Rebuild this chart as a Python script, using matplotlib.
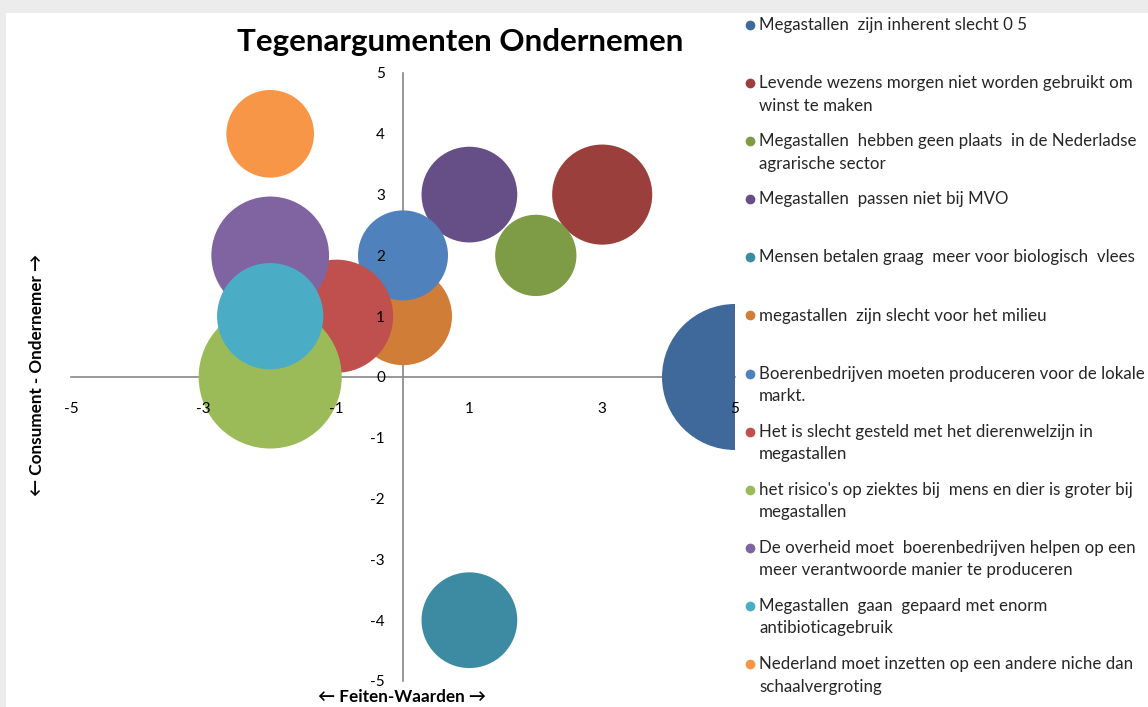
import numpy as np
import matplotlib.pyplot as plt
from matplotlib.patches import Rectangle
from matplotlib.lines import Line2D

plt.rcParams['font.family'] = ['Lato', 'DejaVu Sans']
plt.rcParams['axes.unicode_minus'] = False

# data (feiten-waarden, consument-ondernemer, bubble size)
labels = [
    "Megastallen  zijn inherent slecht 0 5",
    "Levende wezens morgen niet worden gebruikt om\nwinst te maken",
    "Megastallen  hebben geen plaats  in de Nederladse\nagrarische sector",
    "Megastallen  passen niet bij MVO",
    "Mensen betalen graag  meer voor biologisch  vlees",
    "megastallen  zijn slecht voor het milieu",
    "Boerenbedrijven moeten produceren voor de lokale\nmarkt.",
    "Het is slecht gesteld met het dierenwelzijn in\nmegastallen",
    "het risico's op ziektes bij  mens en dier is groter bij\nmegastallen",
    "De overheid moet  boerenbedrijven helpen op een\nmeer verantwoorde manier te produceren",
    "Megastallen  gaan  gepaard met enorm\nantibioticagebruik",
    "Nederland moet inzetten op een andere niche dan\nschaalvergroting",
]
x_vals = [5, 3, 2, 1, 1, 0, 0, -1, -2, -2, -2, -2]
y_vals = [0, 3, 2, 3, -4, 1, 2, 1, 0, 2, 1, 4]
sizes = [10, 4.7, 3.1, 4.3, 4.3, 4.5, 3.8, 6.0, 9.6, 6.5, 5.3, 3.6]
colors = ['#3F689B', '#9B3F3C', '#7E9B46', '#664F87', '#3C8BA3', '#D07D38',
          '#4F81BD', '#C0504D', '#9BBB59', '#8064A2', '#4BACC6', '#F79646']

W, H, DPI = 1148, 707, 100
fig = plt.figure(figsize=(W / DPI, H / DPI), dpi=DPI)
fig.patch.set_facecolor('#ececec')
fig.patches.append(Rectangle((6 / W, 0), 1, (H - 13) / H, transform=fig.transFigure,
                             facecolor='white', edgecolor='none', zorder=-10))

ax = fig.add_axes([71 / W, 26 / H, 664 / W, 608 / H])
ax.set_facecolor('none')

# bubble area proportional to size, largest = 73 px radius
r_px = 73 * np.sqrt(np.array(sizes) / max(sizes))
s = (2 * r_px * 72 / DPI) ** 2
for i in range(len(labels)):
    ax.scatter(x_vals[i], y_vals[i], s=s[i], color=colors[i], edgecolors='none', zorder=2 + i)

ax.set_xlim(-5, 5)
ax.set_ylim(-5, 5)
ax.set_xticks(np.arange(-5, 6, 2))
ax.set_yticks(np.arange(-5, 6, 1))
for side in ['top', 'right']:
    ax.spines[side].set_visible(False)
for side in ['left', 'bottom']:
    ax.spines[side].set_position(('data', 0))
    ax.spines[side].set_color('#868686')
    ax.spines[side].set_linewidth(1.2)
    ax.spines[side].set_zorder(1)
ax.xaxis.set_zorder(30)
ax.yaxis.set_zorder(30)
ax.tick_params(axis='x', length=0, pad=18, labelsize=11, colors='#000000')
ax.tick_params(axis='y', length=0, pad=13, labelsize=11, colors='#000000')

fig.text(460 / W, 1 - 42 / H, 'Tegenargumenten Ondernemen', ha='center', va='center',
         fontsize=22.5, fontweight='bold')
fig.text(37 / W, 1 - 375 / H, '← Consument - Ondernemer →', rotation=90, ha='center',
         va='center', fontsize=12.3, fontweight='bold')
fig.text(402 / W, 1 - 697 / H, '← Feiten-Waarden →', ha='center', va='center',
         fontsize=12.3, fontweight='bold')

# legend on the right
for i, lab in enumerate(labels):
    yc = 25 + i * 58.1
    fig.add_artist(Line2D([750 / W], [1 - yc / H], marker='o', markersize=6,
                          color=colors[i], linestyle='none', transform=fig.transFigure))
    fig.text(759 / W, 1 - (yc - 8) / H, lab, ha='left', va='top', fontsize=12.2,
             color='#262626', linespacing=1.5)

fig.savefig('out.png', dpi=DPI)
